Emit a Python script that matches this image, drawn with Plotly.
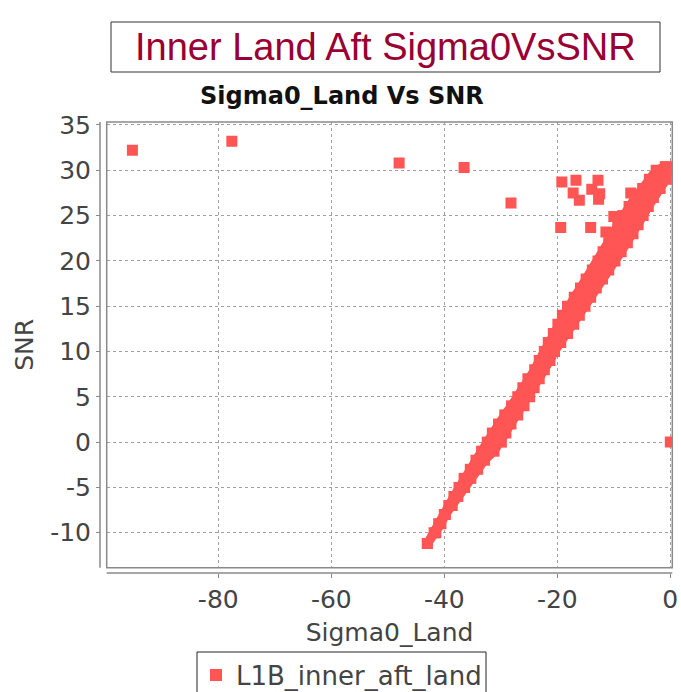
import plotly.graph_objects as go

W, H = 681, 692

# ---- data ----
outlier_sigma0 = [-95.2, -77.6, -48.0, -36.5, -28.2, -19.2, -16.7, -12.8, -13.9, -17.2,
                  -16.1, -12.5, -12.7, -7.0, -10.0, -19.4, -14.1, -11.4, 0.0]
outlier_snr = [32.2, 33.2, 30.8, 30.3, 26.4, 28.7, 28.9, 28.9, 27.9, 27.5,
               26.7, 27.4, 26.8, 27.5, 24.9, 23.7, 23.7, 23.2, 0.0]

# dense band: positions of the outermost points on each side, read at each SNR level
band_snr = [-11.2, -10, -9, -8, -7, -6, -5, -4, -3, -2, -1, 0, 1, 2, 3, 4, 5, 6, 7, 8, 9,
            10, 11, 12, 13, 14, 15, 16, 17, 18, 19, 20, 21, 22, 23, 24, 25, 26, 27, 28,
            29, 30, 30.4]
band_sigma0_left = [-43.0, -41.8, -41.0, -40.0, -39.2, -38.3, -37.4, -36.5, -35.4, -34.4,
                    -33.4, -32.4, -31.5, -30.4, -29.3, -28.1, -27.0, -26.1, -25.2, -24.0,
                    -23.2, -22.3, -21.6, -20.7, -19.9, -19.1, -18.2, -17.0, -15.9, -14.9,
                    -13.8, -12.8, -11.9, -10.9, -10.1, -9.3, -8.4, -7.3, -6.2, -4.9,
                    -3.7, -2.5, -0.9]
band_sigma0_right = [-43.0, -41.5, -40.6, -39.8, -38.6, -37.6, -36.4, -35.3, -34.1, -32.9,
                     -31.2, -29.9, -29.1, -28.2, -27.0, -25.9, -24.9, -24.1, -23.2, -22.3,
                     -21.3, -20.5, -19.4, -18.2, -17.1, -16.1, -15.1, -14.1, -13.1, -12.0,
                     -10.9, -9.8, -8.7, -7.6, -6.6, -5.7, -4.8, -3.9, -3.0, -1.8,
                     -0.7, -0.65, -0.65]

x_range = [-99.75, 0.35]
y_range = [-13.86, 35.33]
x_ticks = [-80, -60, -40, -20, 0]
y_ticks = [-10, -5, 0, 5, 10, 15, 20, 25, 30, 35]

RED = "#FF5555"
AXIS_GREY = "#8a8a8a"
TEXT_GREY = "#444444"


def px(x):
    return x / W


def py(y):
    return 1 - y / H


# plot-area pixel box
L, R, T, B = 106.7, 672.3, 122.0, 567.7

fig = go.Figure()

# solid band body (polygon through the read band edges, outlined by a marker-wide stroke)
fig.add_trace(go.Scatter(
    x=band_sigma0_left + band_sigma0_right[::-1] + band_sigma0_left[:1],
    y=band_snr + band_snr[::-1] + band_snr[:1],
    mode="lines", fill="toself", fillcolor=RED,
    line=dict(color=RED, width=9), showlegend=False, hoverinfo="skip"))

# band edge markers + outliers
fig.add_trace(go.Scatter(
    x=band_sigma0_left + band_sigma0_right + outlier_sigma0,
    y=band_snr + band_snr + outlier_snr,
    mode="markers", name="L1B_inner_aft_land",
    marker=dict(symbol="square", size=11, color=RED, line=dict(width=0))))

tick_font = dict(family="DejaVu Sans", size=25, color=TEXT_GREY)
title_font = dict(family="DejaVu Sans", size=25, color=TEXT_GREY)

fig.update_layout(
    width=W, height=H,
    margin=dict(l=0, r=0, t=0, b=0, autoexpand=False),
    paper_bgcolor="white", plot_bgcolor="white",
    showlegend=True,
    legend=dict(x=px(341.5), y=py(675), xanchor="center", yanchor="middle",
                orientation="h", bordercolor="rgba(0,0,0,0)", borderwidth=0,
                font=dict(family="DejaVu Sans", size=26, color=TEXT_GREY),
                itemsizing="constant", bgcolor="rgba(0,0,0,0)", itemwidth=30),
    xaxis=dict(domain=[px(L), px(R)], range=x_range,
               tickvals=x_ticks, ticktext=[str(v) for v in x_ticks],
               anchor="free", position=py(573),
               showline=False, zeroline=False,
               ticks="outside", ticklen=4, tickcolor=AXIS_GREY,
               showgrid=True, gridcolor="#a0a0a0", griddash="3px,3px", gridwidth=1,
               tickfont=tick_font,
               title=dict(text="Sigma0_Land", standoff=10, font=title_font),
               automargin=False),
    yaxis=dict(domain=[py(B), py(T)], range=y_range,
               tickvals=y_ticks, ticktext=[str(v) for v in y_ticks],
               anchor="free", position=px(100),
               showline=False, zeroline=False,
               ticks="outside", ticklen=4, tickcolor=AXIS_GREY,
               showgrid=True, gridcolor="#a0a0a0", griddash="3px,3px", gridwidth=1,
               tickfont=tick_font,
               title=dict(text="SNR", standoff=8, font=title_font),
               automargin=False),
    shapes=[
        dict(type="rect", xref="paper", yref="paper", x0=px(L), x1=px(R), y0=py(B), y1=py(T),
             line=dict(color=AXIS_GREY, width=1.5), layer="above"),
        dict(type="line", xref="paper", yref="paper", x0=px(100), x1=px(100), y0=py(B), y1=py(T),
             line=dict(color=AXIS_GREY, width=1.5)),
        dict(type="line", xref="paper", yref="paper", x0=px(L), x1=px(R), y0=py(573), y1=py(573),
             line=dict(color=AXIS_GREY, width=1.5)),
        # title box
        dict(type="rect", xref="paper", yref="paper", x0=px(111), x1=px(660), y0=py(72), y1=py(22),
             line=dict(color="#333333", width=1)),
        # legend frame
        dict(type="rect", xref="paper", yref="paper", x0=px(197), x1=px(486), y0=py(700), y1=py(652),
             line=dict(color="#222222", width=1)),
    ],
    annotations=[
        dict(text="Inner Land Aft Sigma0VsSNR", xref="paper", yref="paper",
             x=px(385.5), y=py(47), xanchor="center", yanchor="middle", showarrow=False,
             font=dict(family="Liberation Sans", size=38, color="#990033")),
        dict(text="<b>Sigma0_Land Vs SNR</b>", xref="paper", yref="paper",
             x=px(341.5), y=py(96), xanchor="center", yanchor="middle", showarrow=False,
             font=dict(family="DejaVu Sans", size=24, color="#111111")),
    ],
)

fig.write_html("out.html", config={"displayModeBar": False},
               post_script="document.body.style.margin='0';")
